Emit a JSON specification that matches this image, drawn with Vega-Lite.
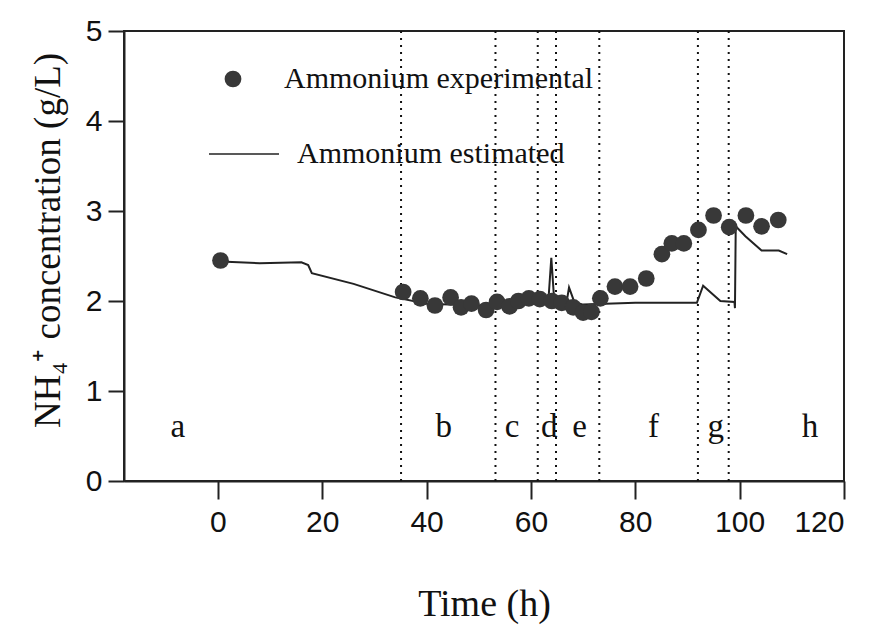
{
  "$schema": "https://vega.github.io/schema/vega-lite/v6.json",
  "width": 720,
  "height": 450,
  "autosize": {"type": "none"},
  "padding": {"left": 124, "top": 31, "right": 31, "bottom": 149},
  "background": "white",
  "config": {
    "view": {"stroke": "#222", "strokeWidth": 2},
    "axis": {"grid": false}
  },
  "datasets": {
    "exp": [
      {"t": 0.5, "c": 2.45},
      {"t": 35.5, "c": 2.1},
      {"t": 38.8, "c": 2.03},
      {"t": 41.6, "c": 1.95},
      {"t": 44.6, "c": 2.04},
      {"t": 46.6, "c": 1.93},
      {"t": 48.6, "c": 1.97},
      {"t": 51.4, "c": 1.9},
      {"t": 53.5, "c": 1.99},
      {"t": 55.9, "c": 1.94},
      {"t": 57.6, "c": 2.0},
      {"t": 59.6, "c": 2.03},
      {"t": 61.7, "c": 2.02},
      {"t": 64.0, "c": 2.0},
      {"t": 65.9, "c": 1.98},
      {"t": 68.1, "c": 1.93},
      {"t": 70.0, "c": 1.87},
      {"t": 71.6, "c": 1.88},
      {"t": 73.3, "c": 2.03},
      {"t": 76.1, "c": 2.16},
      {"t": 79.0, "c": 2.16},
      {"t": 82.1, "c": 2.25},
      {"t": 85.1, "c": 2.52},
      {"t": 87.0, "c": 2.64},
      {"t": 89.3, "c": 2.64},
      {"t": 92.1, "c": 2.79},
      {"t": 95.0, "c": 2.95},
      {"t": 98.0, "c": 2.82},
      {"t": 101.2, "c": 2.95},
      {"t": 104.2, "c": 2.83},
      {"t": 107.4, "c": 2.9}
    ],
    "est": [
      {"t": 0.5, "c": 2.44},
      {"t": 8, "c": 2.42},
      {"t": 16, "c": 2.43},
      {"t": 17.3, "c": 2.4},
      {"t": 18, "c": 2.31},
      {"t": 26, "c": 2.19},
      {"t": 34, "c": 2.04},
      {"t": 40, "c": 1.97},
      {"t": 50, "c": 1.95},
      {"t": 58, "c": 1.97},
      {"t": 63.3, "c": 1.97},
      {"t": 63.9, "c": 2.48},
      {"t": 64.5, "c": 1.97},
      {"t": 66.8, "c": 1.98},
      {"t": 67.3, "c": 2.15},
      {"t": 68.3, "c": 1.99},
      {"t": 70, "c": 1.96},
      {"t": 80, "c": 1.98},
      {"t": 91.8, "c": 1.98},
      {"t": 93, "c": 2.17},
      {"t": 96.3, "c": 2.0},
      {"t": 99, "c": 1.99},
      {"t": 99.1, "c": 1.92},
      {"t": 99.25, "c": 2.83},
      {"t": 101.1, "c": 2.72},
      {"t": 104.2, "c": 2.56},
      {"t": 107.5, "c": 2.56},
      {"t": 109.1, "c": 2.52}
    ],
    "phases": [
      {"t": 35.1}, {"t": 53.2}, {"t": 61.3}, {"t": 64.8}, {"t": 73.1}, {"t": 92.0}, {"t": 97.9}
    ],
    "labels": [
      {"t": -7.7, "label": "a"},
      {"t": 43.3, "label": "b"},
      {"t": 56.4, "label": "c"},
      {"t": 63.5, "label": "d"},
      {"t": 69.3, "label": "e"},
      {"t": 83.5, "label": "f"},
      {"t": 95.4, "label": "g"},
      {"t": 113.5, "label": "h"}
    ]
  },
  "encoding": {
    "x": {
      "field": "t",
      "type": "quantitative",
      "scale": {"domain": [-18, 120], "nice": false, "zero": false},
      "axis": {
        "values": [0, 20, 40, 60, 80, 100, 120],
        "format": "d",
        "title": "Time (h)",
        "titleFont": "Liberation Serif",
        "titleFontSize": 38,
        "titleFontWeight": "normal",
        "titleColor": "#111",
        "titlePadding": 48,
        "labelFont": "Liberation Sans",
        "labelFontSize": 30,
        "labelColor": "#111",
        "labelPadding": 8,
        "tickSize": 18,
        "tickWidth": 2,
        "tickColor": "#222",
        "domainColor": "#222",
        "domainWidth": 2,
        "grid": false
      }
    }
  },
  "layer": [
    {
      "data": {"name": "phases"},
      "mark": {"type": "rule", "color": "#111", "strokeWidth": 2, "strokeDash": [2, 5]},
      "encoding": {}
    },
    {
      "data": {"name": "est"},
      "transform": [{"calculate": "'Ammonium estimated'", "as": "series"}],
      "mark": {"type": "line", "strokeWidth": 2},
      "encoding": {
        "y": {
          "field": "c",
          "type": "quantitative",
          "scale": {"domain": [0, 5], "nice": false},
          "axis": {
            "values": [0, 1, 2, 3, 4, 5],
            "format": "d",
            "title": "NH₄⁺ concentration (g/L)",
            "titleFont": "Liberation Serif",
            "titleFontSize": 37,
            "titleFontWeight": "normal",
            "titleColor": "#111",
            "titlePadding": 18,
            "titleY": 209,
            "labelFont": "Liberation Sans",
            "labelFontSize": 30,
            "labelColor": "#111",
            "labelPadding": 6,
            "tickSize": 16,
            "tickWidth": 2,
            "tickColor": "#222",
            "domainColor": "#222",
            "domainWidth": 2,
            "grid": false
          }
        },
        "color": {
          "field": "series",
          "type": "nominal",
          "scale": {"range": ["#222"]},
          "legend": {
            "orient": "none",
            "legendX": 84,
            "legendY": 87,
            "title": null,
            "padding": 0,
            "symbolType": "stroke",
            "symbolSize": 4900,
            "symbolStrokeWidth": 1.5,
            "labelFont": "Liberation Serif",
            "labelFontSize": 30,
            "labelColor": "#111",
            "labelOffset": 17,
            "labelLimit": 500
          }
        }
      }
    },
    {
      "data": {"name": "exp"},
      "transform": [{"calculate": "'Ammonium experimental'", "as": "series"}],
      "mark": {"type": "point", "filled": true, "size": 280, "color": "#383838", "opacity": 1},
      "encoding": {
        "y": {"field": "c", "type": "quantitative", "scale": {"domain": [0, 5], "nice": false}},
        "shape": {
          "field": "series",
          "type": "nominal",
          "scale": {"range": ["circle"]},
          "legend": {
            "orient": "none",
            "legendX": 94,
            "legendY": 33,
            "title": null,
            "padding": 0,
            "symbolSize": 280,
            "symbolFillColor": "#383838",
            "symbolStrokeColor": "#383838",
            "labelFont": "Liberation Serif",
            "labelFontSize": 30,
            "labelColor": "#111",
            "labelOffset": 36,
            "labelLimit": 500
          }
        }
      }
    },
    {
      "data": {"name": "labels"},
      "mark": {"type": "text", "font": "Liberation Serif", "fontSize": 33, "color": "#111", "baseline": "middle", "align": "center"},
      "encoding": {
        "y": {"datum": 0.6, "type": "quantitative", "scale": {"domain": [0, 5], "nice": false}},
        "text": {"field": "label"}
      }
    }
  ]
}
